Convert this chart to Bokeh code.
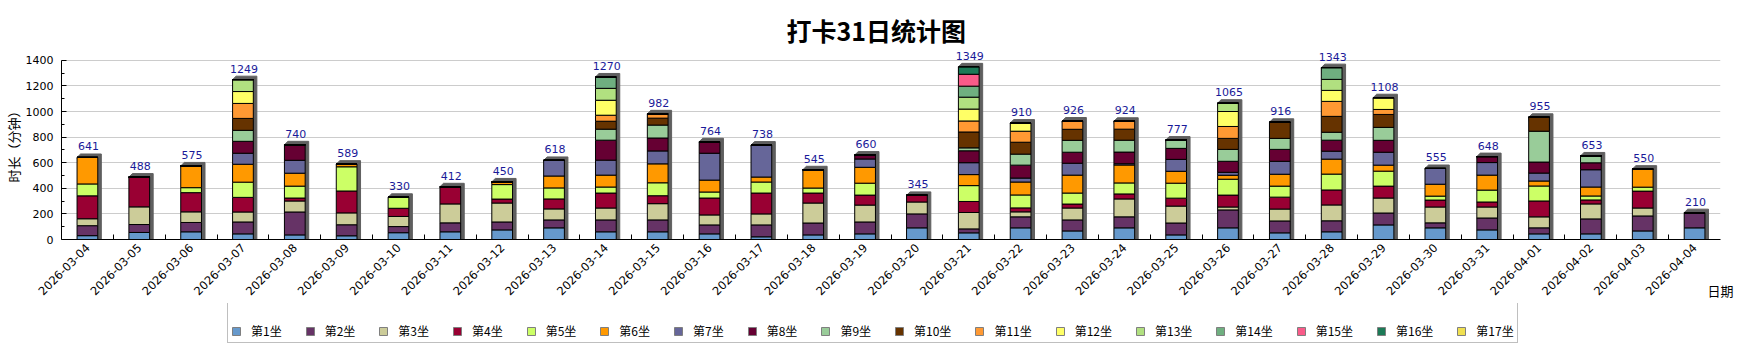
from math import pi
from bokeh.plotting import figure
from bokeh.layouts import column
from bokeh.models import ColumnDataSource, FixedTicker, Legend, LegendItem, Range1d
from bokeh.core.properties import value
from bokeh.embed import file_html
from bokeh.resources import INLINE

dates = ["2026-03-04", "2026-03-05", "2026-03-06", "2026-03-07", "2026-03-08", "2026-03-09",
         "2026-03-10", "2026-03-11", "2026-03-12", "2026-03-13", "2026-03-14", "2026-03-15",
         "2026-03-16", "2026-03-17", "2026-03-18", "2026-03-19", "2026-03-20", "2026-03-21",
         "2026-03-22", "2026-03-23", "2026-03-24", "2026-03-25", "2026-03-26", "2026-03-27",
         "2026-03-28", "2026-03-29", "2026-03-30", "2026-03-31", "2026-04-01", "2026-04-02",
         "2026-04-03", "2026-04-04"]

names = ["第1坐", "第2坐", "第3坐", "第4坐", "第5坐", "第6坐", "第7坐", "第8坐", "第9坐",
         "第10坐", "第11坐", "第12坐", "第13坐", "第14坐", "第15坐", "第16坐", "第17坐"]

s1 = [30, 55, 60, 44, 36, 29, 53, 60, 75, 91, 60, 60, 44, 21, 36, 44, 91, 52, 91, 67, 91, 36, 91, 52, 60, 114, 91, 75, 44, 44, 67, 91]
s2 = [78, 62, 73, 93, 179, 86, 48, 70, 62, 62, 93, 93, 70, 93, 93, 93, 109, 31, 86, 86, 86, 93, 140, 93, 86, 93, 39, 93, 47, 117, 117, 119]
s3 = [54, 138, 83, 78, 86, 93, 79, 148, 148, 86, 93, 127, 78, 86, 156, 132, 93, 128, 39, 93, 140, 132, 23, 93, 124, 117, 124, 86, 86, 117, 62, 0]
s4 = [179, 233, 150, 114, 23, 171, 64, 134, 31, 78, 117, 62, 132, 163, 78, 78, 52, 86, 31, 31, 39, 62, 93, 93, 117, 93, 54, 39, 124, 31, 132, 0]
s5 = [93, 0, 39, 119, 93, 189, 86, 0, 113, 86, 47, 101, 47, 86, 39, 93, 0, 124, 101, 86, 86, 117, 124, 86, 124, 117, 31, 93, 117, 31, 31, 0]
s6 = [207, 0, 170, 140, 101, 21, 0, 0, 21, 93, 93, 148, 93, 39, 143, 124, 0, 86, 101, 140, 140, 93, 31, 93, 117, 47, 93, 117, 39, 70, 141, 0]
s7 = [0, 0, 0, 86, 101, 0, 0, 0, 0, 122, 117, 101, 210, 250, 0, 65, 0, 93, 31, 93, 10, 93, 23, 101, 62, 101, 123, 98, 62, 135, 0, 0]
s8 = [0, 0, 0, 93, 121, 0, 0, 0, 0, 0, 156, 101, 90, 0, 0, 31, 0, 93, 101, 86, 91, 86, 86, 93, 86, 93, 0, 47, 86, 54, 0, 0]
s9 = [0, 0, 0, 86, 0, 0, 0, 0, 0, 0, 86, 101, 0, 0, 0, 0, 0, 23, 86, 93, 93, 65, 93, 86, 62, 101, 0, 0, 241, 54, 0, 0]
s10 = [0, 0, 0, 93, 0, 0, 0, 0, 0, 0, 62, 54, 0, 0, 0, 0, 0, 124, 93, 86, 86, 0, 86, 126, 124, 101, 0, 0, 109, 0, 0, 0]
s11 = [0, 0, 0, 117, 0, 0, 0, 0, 0, 0, 47, 34, 0, 0, 0, 0, 0, 86, 86, 65, 62, 0, 93, 0, 117, 39, 0, 0, 0, 0, 0, 0]
s12 = [0, 0, 0, 93, 0, 0, 0, 0, 0, 0, 117, 0, 0, 0, 0, 0, 0, 93, 64, 0, 0, 0, 117, 0, 86, 92, 0, 0, 0, 0, 0, 0]
s13 = [0, 0, 0, 93, 0, 0, 0, 0, 0, 0, 93, 0, 0, 0, 0, 0, 0, 93, 0, 0, 0, 0, 65, 0, 86, 0, 0, 0, 0, 0, 0, 0]
s14 = [0, 0, 0, 0, 0, 0, 0, 0, 0, 0, 89, 0, 0, 0, 0, 0, 0, 86, 0, 0, 0, 0, 0, 0, 92, 0, 0, 0, 0, 0, 0, 0]
s15 = [0, 0, 0, 0, 0, 0, 0, 0, 0, 0, 0, 0, 0, 0, 0, 0, 0, 93, 0, 0, 0, 0, 0, 0, 0, 0, 0, 0, 0, 0, 0, 0]
s16 = [0, 0, 0, 0, 0, 0, 0, 0, 0, 0, 0, 0, 0, 0, 0, 0, 0, 58, 0, 0, 0, 0, 0, 0, 0, 0, 0, 0, 0, 0, 0, 0]
s17 = [0, 0, 0, 0, 0, 0, 0, 0, 0, 0, 0, 0, 0, 0, 0, 0, 0, 0, 0, 0, 0, 0, 0, 0, 0, 0, 0, 0, 0, 0, 0, 0]

series = [s1, s2, s3, s4, s5, s6, s7, s8, s9, s10, s11, s12, s13, s14, s15, s16, s17]

colors = ["#6699CC", "#663366", "#CCCC99", "#990033", "#CCFF66", "#FF9900", "#666699", "#660033",
          "#99CC99", "#663300", "#FF9933", "#FFFF66", "#B1E080", "#6FAF80", "#F95B89", "#1C7A57",
          "#F0E050"]

y_ticks = [0, 200, 400, 600, 800, 1000, 1200, 1400]
y_minor = [100, 300, 500, 700, 900, 1100, 1300]

xs = list(range(len(dates)))
totals = [sum(col) for col in zip(*series)]

data = {"x": xs, "total": totals, "label": [str(t) for t in totals]}
for n, s in zip(names, series):
    data[n] = s
src = ColumnDataSource(data)

W = 0.4      # bar width in category units
DX = 0.068   # shadow horizontal depth
DY = 27      # shadow vertical depth

p = figure(width=1734, height=303, x_range=Range1d(-0.5, len(dates) - 0.5),
           y_range=Range1d(0, 1500), output_backend="svg", toolbar_location=None,
           min_border_left=61, min_border_right=14, min_border_top=47, min_border_bottom=63,
           title="打卡31日统计图")
p.outline_line_color = None
p.background_fill_color = "white"
p.border_fill_color = "white"

p.title.text_font = "Noto Sans CJK SC"
p.title.text_font_size = "25px"
p.title.text_font_style = "bold"
p.title.align = "left"
p.title.offset = 725
p.title.standoff = 0
p.title.text_color = "black"

# 3D shadow behind each stack
shadow_xs = [[i - W / 2, i - W / 2 + DX, i + W / 2 + DX, i + W / 2 + DX, i + W / 2] for i in xs]
shadow_ys = [[t, t + DY, t + DY, 0, 0] for t in totals]
p.patches(shadow_xs, shadow_ys, fill_color="#5f5f5f", line_color="#5f5f5f", line_width=1)

rends = p.vbar_stack(names, x="x", width=W, fill_color=colors, line_color="black",
                     line_width=1, source=src)

p.text(x="x", y="total", text="label", source=src, text_align="center", text_baseline="bottom",
       x_offset=1, y_offset=-7, text_color="#1a1a99", text_font=value("DejaVu Sans"),
       text_font_size="11px")

# axes
p.yaxis.ticker = FixedTicker(ticks=y_ticks, minor_ticks=y_minor)
p.yaxis.bounds = (y_ticks[0], y_ticks[-1])
p.yaxis.major_tick_in = 5
p.yaxis.major_tick_out = 0
p.yaxis.minor_tick_in = 3
p.yaxis.minor_tick_out = 0
p.yaxis.axis_line_color = "black"
p.yaxis.major_tick_line_color = "black"
p.yaxis.minor_tick_line_color = "black"
p.yaxis.major_label_text_font = "DejaVu Sans"
p.yaxis.major_label_text_font_size = "11px"
p.yaxis.major_label_text_color = "black"
p.yaxis.major_label_standoff = 8
p.yaxis.axis_label = "时长（分钟）"
p.yaxis.axis_label_text_font = "Noto Sans CJK SC"
p.yaxis.axis_label_text_font_size = "13px"
p.yaxis.axis_label_text_font_style = "normal"
p.yaxis.axis_label_text_color = "black"
p.yaxis.axis_label_standoff = 0

p.xaxis.ticker = FixedTicker(ticks=xs, minor_ticks=[i + 0.5 for i in xs[:-1]])
p.xaxis.major_label_overrides = {i: d for i, d in zip(xs, dates)}
p.xaxis.major_label_orientation = pi / 4
p.xaxis.major_tick_in = 0
p.xaxis.major_tick_out = 0
p.xaxis.minor_tick_in = 5
p.xaxis.minor_tick_out = 0
p.xaxis.axis_line_color = "black"
p.xaxis.minor_tick_line_color = "black"
p.xaxis.major_label_text_font = "DejaVu Sans"
p.xaxis.major_label_text_font_size = "11.5px"
p.xaxis.major_label_text_color = "black"
p.xaxis.major_label_standoff = 6
p.xaxis.axis_label = "日期"
p.xaxis.axis_label_align = "end"
p.xaxis.axis_label_standoff = -21
p.xaxis.axis_label_text_font = "Noto Sans CJK SC"
p.xaxis.axis_label_text_font_size = "13px"
p.xaxis.axis_label_text_font_style = "normal"
p.xaxis.axis_label_text_color = "black"

p.xgrid.visible = False
p.ygrid.grid_line_color = "#cccccc"
p.ygrid.grid_line_width = 1

# legend strip (separate figure so the legend box sits fully inside a frame);
# its swatch renderers use the same data but lie outside this strip's visible range
p2 = figure(width=1734, height=52, x_range=Range1d(-0.5, len(dates) - 0.5),
            y_range=Range1d(5000, 5001), output_backend="svg", toolbar_location=None,
            x_axis_location=None, y_axis_location=None, min_border_left=61,
            min_border_right=14, min_border_top=0, min_border_bottom=0)
p2.outline_line_color = None
p2.grid.visible = False
p2.background_fill_color = "white"
p2.border_fill_color = "white"

swatches = [p2.vbar(x="x", top=n, width=W, source=src, fill_color=c, line_color="#7f7f7f")
            for n, c in zip(names, colors)]

legend = Legend(items=[LegendItem(label=n, renderers=[r]) for n, r in zip(names, swatches)],
                orientation="horizontal", location=(166, 12), title=" ",
                title_text_font_size="12px", title_standoff=2, padding=3, margin=0,
                border_line_color="#808080", border_line_width=1,
                glyph_width=10, glyph_height=10, label_standoff=10, spacing=23, label_height=16,
                label_text_font="Noto Sans CJK SC", label_text_font_size="12px",
                label_text_color="black", background_fill_color="white")
p2.add_layout(legend, "center")

open("out.html", "w").write(file_html(column(p, p2), INLINE))
